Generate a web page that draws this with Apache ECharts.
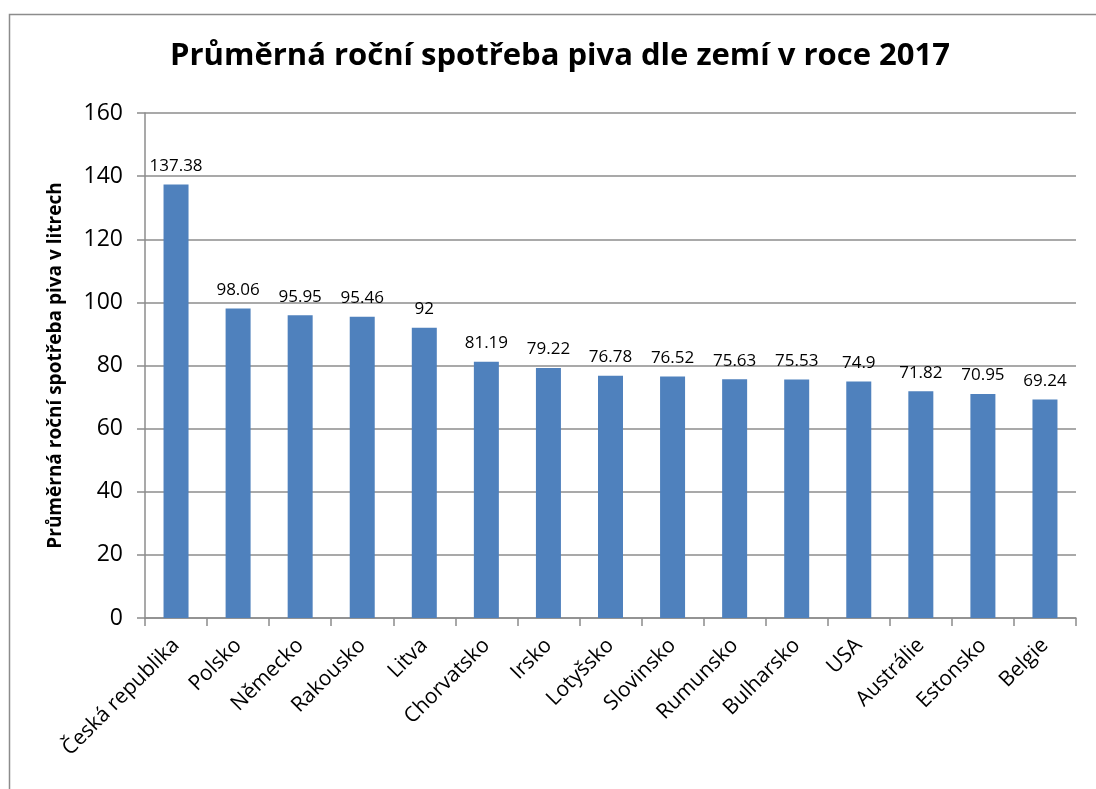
<!DOCTYPE html>
<html>
<head>
<meta charset="utf-8">
<script src="https://cdn.jsdelivr.net/npm/echarts@6/dist/echarts.min.js"></script>
<style>
html, body { margin: 0; padding: 0; background: #fff; }
#chart { width: 1096px; height: 789px; }
</style>
</head>
<body>
<div id="chart"></div>
<script>
var countries = ['Česká republika', 'Polsko', 'Německo', 'Rakousko', 'Litva', 'Chorvatsko', 'Irsko',
    'Lotyšsko', 'Slovinsko', 'Rumunsko', 'Bulharsko', 'USA', 'Austrálie', 'Estonsko', 'Belgie'];
var litres = [137.38, 98.06, 95.95, 95.46, 92, 81.19, 79.22, 76.78, 76.52, 75.63, 75.53, 74.9, 71.82, 70.95, 69.24];
var yTicks = [0, 20, 40, 60, 80, 100, 120, 140, 160];

var font = '"Open Sans", "Noto Sans", sans-serif';
var myChart = echarts.init(document.getElementById('chart'));

var option = {
    animation: false,
    textStyle: { fontFamily: font },
    graphic: [{
        type: 'rect',
        shape: { x: 9.5, y: 14.5, width: 1200, height: 900 },
        style: { fill: 'none', stroke: '#8c8c8c', lineWidth: 1.5 },
        silent: true
    }],
    title: {
        text: 'Průměrná roční spotřeba piva dle zemí v roce 2017',
        left: 555,
        textAlign: 'center',
        top: 36,
        textStyle: { fontFamily: font, fontSize: 31, fontWeight: 'bold', color: '#000' }
    },
    grid: {
        left: 145,
        right: 20,
        top: 113,
        bottom: 171,
        containLabel: false
    },
    xAxis: {
        type: 'category',
        data: countries,
        axisLine: { lineStyle: { color: '#8c8c8c', width: 1.5 } },
        axisTick: { show: true, length: 8, alignWithLabel: false, lineStyle: { color: '#8c8c8c', width: 1.5 } },
        axisLabel: { rotate: 45, interval: 0, margin: 24, fontSize: 21, color: '#000', fontFamily: font }
    },
    yAxis: {
        type: 'value',
        min: 0,
        max: 160,
        interval: 20,
        name: 'Průměrná roční spotřeba piva v litrech',
        nameLocation: 'middle',
        nameGap: 80,
        nameTextStyle: { fontSize: 19, fontWeight: 'bold', color: '#000', fontFamily: font },
        axisLine: { show: true, lineStyle: { color: '#8c8c8c', width: 1.5 } },
        axisTick: { show: true, length: 8, lineStyle: { color: '#8c8c8c', width: 1.5 } },
        axisLabel: {
            fontSize: 23, color: '#000', margin: 22, fontFamily: font,
            formatter: function (v) { return yTicks.indexOf(v) >= 0 ? String(v) : ''; }
        },
        splitLine: { show: true, lineStyle: { color: '#8c8c8c', width: 1.5 } }
    },
    series: [{
        type: 'bar',
        data: litres,
        barWidth: 25,
        itemStyle: { color: '#4f81bd' },
        label: {
            show: true,
            position: 'top',
            distance: 10,
            fontSize: 17,
            color: '#000',
            fontFamily: font
        }
    }]
};

myChart.setOption(option);
</script>
</body>
</html>
